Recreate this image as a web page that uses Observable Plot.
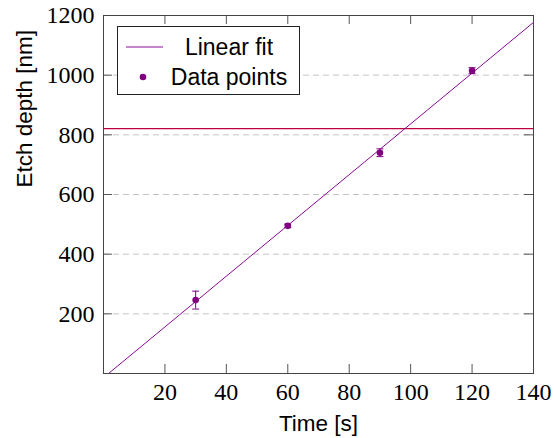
<!DOCTYPE html>
<html><head><meta charset="utf-8">
<script src="https://cdn.jsdelivr.net/npm/d3@7"></script>
<script src="https://cdn.jsdelivr.net/npm/@observablehq/plot@0.6"></script>
<style>
body{margin:0;background:#fff}
#wrap{position:relative;width:554px;height:438px;overflow:hidden}
#wrap svg{display:block}
.legend{position:absolute;left:117px;top:26px;width:181px;height:67px;border:1px solid #222;background:#fff;font-family:"Liberation Sans",Arial,sans-serif;font-size:23px;color:#000}
.legend .row{position:absolute;left:0;width:181px;height:30px}
.legend .sym{position:absolute;left:6px;top:0;width:40px;height:30px}
.legend .lab{position:absolute;left:46px;width:130px;text-align:center;top:0;line-height:30px}
</style>
</head><body>
<div id="wrap"></div>
<script>
const times = [30, 60, 90, 120];
const depths = [246, 495, 740, 1015];
const errors = [30, 6, 13, 10];
const xTicks = [20, 40, 60, 80, 100, 120, 140];
const yTicks = [200, 400, 600, 800, 1000, 1200];
const gridY = [200, 400, 600, 800, 1000];
const refDepth = 821;
const xDomain = [0, 140];
const yDomain = [0, 1200];
const legendLabels = ["Linear fit", "Data points"];

const data = times.map((t, i) => ({t, d: depths[i], e: errors[i]}));
// least-squares linear fit of the data
const mx = d3.mean(times), my = d3.mean(depths);
const slope = d3.sum(times, (t, i) => (t - mx) * (depths[i] - my)) / d3.sum(times, t => (t - mx) ** 2);
const intercept = my - slope * mx;
const fit = xDomain.map(t => ({t, d: slope * t + intercept}));

const W = 554, H = 438, mL = 103, mR = 21, mT = 15, mB = 65;
const innerH = H - mT - mB, innerW = W - mL - mR, tl = 9;
const violet = "#800080", fitColor = "#8a0a96", refColor = "#bf0040";
const cap = {draw(ctx, size) { const w = Math.sqrt(size / Math.PI); ctx.moveTo(-w, 0); ctx.lineTo(w, 0); }};
const serif = "Liberation Serif, DejaVu Serif, Times New Roman, serif";
const sans = "Liberation Sans, Arial, sans-serif";

const chart = Plot.plot({
  width: W, height: H,
  marginLeft: mL, marginRight: mR, marginTop: mT, marginBottom: mB,
  style: {background: "#fff", color: "#000"},
  x: {domain: xDomain, axis: null},
  y: {domain: yDomain, axis: null},
  marks: [
    Plot.ruleY(gridY, {y: d => d, stroke: "#c4c4c4", strokeDasharray: "6,4"}),
    Plot.ruleY([refDepth], {y: d => d, stroke: refColor, strokeWidth: 1.3}),
    Plot.line(fit, {x: "t", y: "d", stroke: fitColor, strokeWidth: 1, clip: true}),
    Plot.ruleX(data, {x: "t", y1: d => d.d - d.e, y2: d => d.d + d.e, stroke: violet, strokeWidth: 1}),
    Plot.dot(data, {x: "t", y: d => d.d + d.e, symbol: cap, r: 3.5, stroke: violet, strokeWidth: 1}),
    Plot.dot(data, {x: "t", y: d => d.d - d.e, symbol: cap, r: 3.5, stroke: violet, strokeWidth: 1}),
    Plot.dot(data, {x: "t", y: "d", r: 3.3, fill: violet}),
    Plot.tickX(xTicks, {x: d => d, insetTop: innerH - tl, stroke: "#555"}),
    Plot.tickX(xTicks, {x: d => d, insetBottom: innerH - tl, stroke: "#555"}),
    Plot.tickY(yTicks, {y: d => d, insetRight: innerW - tl, stroke: "#555"}),
    Plot.tickY(yTicks, {y: d => d, insetLeft: innerW - tl, stroke: "#555"}),
    Plot.frame({stroke: "#444"}),
    // tick labels (serif, LaTeX-like)
    Plot.text(xTicks, {x: d => d, text: d => String(d), frameAnchor: "bottom", lineAnchor: "top", dy: 9, fontFamily: serif, fontSize: 24, fill: "#000"}),
    Plot.text(yTicks, {y: d => d, text: d => String(d), frameAnchor: "left", textAnchor: "end", dx: -9, fontFamily: serif, fontSize: 24, fill: "#000"}),
    // axis titles
    Plot.text(["Time [s]"], {text: d => d, frameAnchor: "bottom", dy: 57, fontFamily: sans, fontSize: 22.5, fill: "#000"}),
    Plot.text(["Etch depth [nm]"], {text: d => d, frameAnchor: "left", rotate: -90, dx: -79, dy: -7, fontFamily: sans, fontSize: 22.5, fill: "#000"})
  ]
});
const wrap = document.getElementById("wrap");
wrap.appendChild(chart);

// legend
const leg = document.createElement("div");
leg.className = "legend";
legendLabels.forEach((lab, i) => {
  const row = document.createElement("div");
  row.className = "row";
  row.style.top = (5 + i * 30) + "px";
  const sym = document.createElementNS("http://www.w3.org/2000/svg", "svg");
  sym.setAttribute("class", "sym");
  sym.setAttribute("width", 40); sym.setAttribute("height", 30);
  if (i === 0) {
    const l = document.createElementNS("http://www.w3.org/2000/svg", "line");
    l.setAttribute("x1", 2); l.setAttribute("x2", 39); l.setAttribute("y1", 15); l.setAttribute("y2", 15);
    l.setAttribute("stroke", fitColor); l.setAttribute("stroke-width", 1);
    sym.appendChild(l);
  } else {
    const c = document.createElementNS("http://www.w3.org/2000/svg", "circle");
    c.setAttribute("cx", 19); c.setAttribute("cy", 15); c.setAttribute("r", 3.3);
    c.setAttribute("fill", violet);
    sym.appendChild(c);
  }
  row.appendChild(sym);
  const t = document.createElement("div");
  t.className = "lab"; t.textContent = lab;
  row.appendChild(t);
  leg.appendChild(row);
});
wrap.appendChild(leg);
</script>
</body></html>
